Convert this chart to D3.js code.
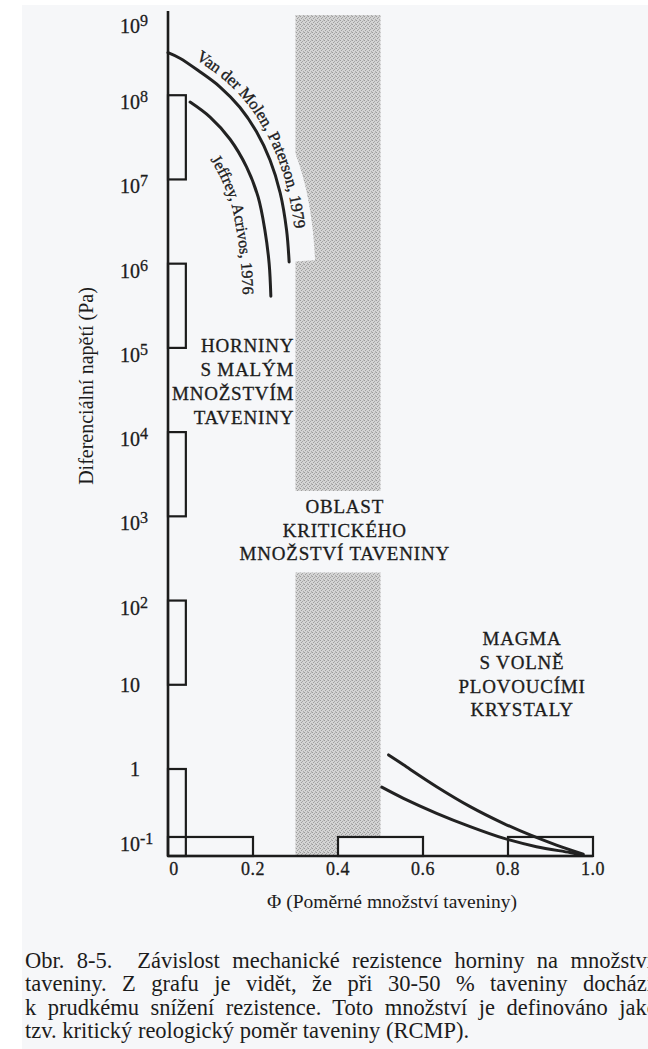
<!DOCTYPE html>
<html><head><meta charset="utf-8">
<script src="https://cdn.jsdelivr.net/npm/d3@7"></script>
<style>
html,body{margin:0;padding:0;background:#fff;}
svg{display:block;}
text{font-family:"Liberation Serif","Times New Roman",serif;fill:#1c1c1c;}
</style></head><body>
<svg id="chart" width="648" height="1049"></svg>
<script>
// ---------- data ----------
const yTickValues = [1e9, 1e8, 1e7, 1e6, 1e5, 1e4, 1e3, 1e2, 10, 1, 0.1];
const yTickBase   = ["10","10","10","10","10","10","10","10","10","1","10"];
const yTickExp    = ["9","8","7","6","5","4","3","2","","","-1"];
const xTickValues = [0, 0.2, 0.4, 0.6, 0.8, 1.0];
const xTickLabels = ["0","0.2","0.4","0.6","0.8","1.0"];

// Van der Molen & Paterson 1979
const vdmPhi    = [0, 0.028, 0.075, 0.122, 0.169, 0.208, 0.24, 0.264, 0.279, 0.285];
const vdmStress = [3.2e8, 2.75e8, 1.9e8, 1.26e8, 7.2e7, 3.7e7, 1.7e7, 6.9e6, 2.5e6, 1.05e6];
// Jeffrey & Acrivos 1976
const jaPhi     = [0.052, 0.099, 0.146, 0.185, 0.212, 0.228, 0.238, 0.242];
const jaStress  = [8.3e7, 5.5e7, 3.0e7, 1.4e7, 6.2e6, 2.5e6, 1.0e6, 4.1e5];
// magma curves (high melt fraction)
const magmaUpperPhi    = [0.519, 0.554, 0.632, 0.711, 0.789, 0.852, 0.914, 0.977];
const magmaUpperStress = [1.47, 1.12, 0.55, 0.28, 0.159, 0.107, 0.076, 0.056];
const magmaLowerPhi    = [0.503, 0.554, 0.632, 0.711, 0.789, 0.867, 0.946, 0.977];
const magmaLowerStress = [0.54, 0.37, 0.223, 0.142, 0.096, 0.072, 0.059, 0.054];

// boxes: [phiMin, phiMax, stressMin, stressMax]
const stressMin = 0.0525;
const boxPhiMin    = [0,     0,     0,     0,    0,         0,         0.4,       0.8];
const boxPhiMax    = [0.042, 0.042, 0.042, 0.042, 0.042,    0.2,       0.6,       1.0];
const boxStressMin = [1e7,   1e5,   1e3,   10,   stressMin, stressMin, stressMin, stressMin];
const boxStressMax = [1e8,   1e6,   1e4,   100,  1,         0.1,       0.1,       0.1];

// critical melt fraction band
const bandPhi = [0.3, 0.5];
const bandStressMin = [2.0e3, stressMin];
const bandStressMax = [1e9, 2.4e2];

const rockLabel = ["HORNINY","S MALÝM","MNOŽSTVÍM","TAVENINY"];
const criticalLabel = ["OBLAST","KRITICKÉHO","MNOŽSTVÍ TAVENINY"];
const magmaLabel = ["MAGMA","S VOLNĚ","PLOVOUCÍMI","KRYSTALY"];
const vdmLabel = "Van der Molen, Paterson, 1979";
const jaLabel = "Jeffrey, Acrivos, 1976";
const xTitle = "Φ (Poměrné množství taveniny)";
const yTitle = "Diferenciální napětí (Pa)";
const captionLines = [
  "Obr. 8-5.  Závislost mechanické rezistence horniny na množství",
  "taveniny. Z grafu je vidět, že při 30-50 % taveniny dochází",
  "k prudkému snížení rezistence. Toto množství je definováno jako",
  "tzv. kritický reologický poměr taveniny (RCMP)."
];

// ---------- drawing ----------
const svg = d3.select("#chart");
const bg = "#f6f7f9";
const ink = "#1c1c1c";

const x = d3.scaleLinear().domain([0, 1]).range([168, 593]);
const y = d3.scaleLog().domain([stressMin, 1, 1e9]).range([856, 769, 11]);

// page background
svg.append("rect").attr("x",0).attr("y",0).attr("width",648).attr("height",1049).attr("fill","#fff");
svg.append("rect").attr("x",22).attr("y",5).attr("width",626).attr("height",1044).attr("fill",bg);

// stipple pattern
const defs = svg.append("defs");
const pat = defs.append("pattern").attr("id","stip").attr("width",4).attr("height",4)
  .attr("patternUnits","userSpaceOnUse");
pat.append("rect").attr("width",4).attr("height",4).attr("fill","#d4d4d4");
[[0,0,"#9a9a9a"],[2,1,"#a6a6a6"],[1,2,"#9e9e9e"],[3,3,"#acacac"],[3,0,"#bcbcbc"]].forEach(p =>
  pat.append("rect").attr("x",p[0]).attr("y",p[1]).attr("width",1).attr("height",1).attr("fill",p[2]));

svg.append("g").attr("class","band").selectAll("rect").data(bandStressMin).join("rect")
  .attr("x", x(bandPhi[0]))
  .attr("width", x(bandPhi[1]) - x(bandPhi[0]))
  .attr("y", (d,i) => y(bandStressMax[i]) + 4)
  .attr("height", (d,i) => y(bandStressMin[i]) - y(bandStressMax[i]) - 4)
  .attr("fill", "url(#stip)");

// boxes (filled ones hide the band underneath)
const haloLayer = svg.append("g");
svg.append("g").selectAll("rect").data(boxPhiMin).join("rect")
  .attr("x", (d,i) => x(boxPhiMin[i]))
  .attr("width", (d,i) => x(boxPhiMax[i]) - x(boxPhiMin[i]))
  .attr("y", (d,i) => y(boxStressMax[i]))
  .attr("height", (d,i) => y(boxStressMin[i]) - y(boxStressMax[i]))
  .attr("fill", (d,i) => i >= 6 ? bg : "none")
  .attr("stroke", ink).attr("stroke-width", 2.2);

const line = d3.line().x(d => x(d[0])).y(d => y(d[1])).curve(d3.curveCatmullRom.alpha(0.5));
const series = [
  d3.zip(vdmPhi, vdmStress),
  d3.zip(jaPhi, jaStress),
  d3.zip(magmaUpperPhi, magmaUpperStress),
  d3.zip(magmaLowerPhi, magmaLowerStress)
];

function offsetPath(node, d, step) {
  const L = node.getTotalLength();
  const pts = [];
  for (let s = 0; s <= L; s += step) {
    const p = node.getPointAtLength(s);
    const a = node.getPointAtLength(Math.max(0, s - 1));
    const b = node.getPointAtLength(Math.min(L, s + 1));
    let tx = b.x - a.x, ty = b.y - a.y;
    const n = Math.hypot(tx, ty) || 1; tx /= n; ty /= n;
    pts.push([p.x + d * ty, p.y - d * tx]);
  }
  return d3.line().curve(d3.curveBasis)(pts);
}

const curves = svg.append("g").selectAll("path").data(series).join("path")
  .attr("d", line).attr("fill","none").attr("stroke","#222").attr("stroke-width",3)
  .attr("stroke-linecap","round");

// label paths
const cn = curves.nodes();
defs.append("path").attr("id","vdmPath").attr("d", offsetPath(cn[0], 8, 2));
defs.append("path").attr("id","jaPath").attr("d", offsetPath(cn[1], -28, 2));

// white halo cutting into band under VdM label
haloLayer.append("path").attr("d", offsetPath(cn[0], 15, 2))
  .attr("fill","none").attr("stroke",bg).attr("stroke-width",22);

svg.append("text").attr("font-size",16.5).attr("fill",ink).attr("stroke",ink).attr("stroke-width",0.35)
  .append("textPath").attr("href","#vdmPath").attr("startOffset",28).text(vdmLabel);
svg.append("text").attr("font-size",16).attr("fill",ink).attr("stroke",ink).attr("stroke-width",0.35)
  .append("textPath").attr("href","#jaPath").attr("startOffset",50).text(jaLabel);

// axes lines
svg.append("line").attr("x1", x(0)).attr("x2", x(0)).attr("y1", y(1e9)).attr("y2", y(stressMin))
  .attr("stroke", ink).attr("stroke-width", 2.6);
svg.append("line").attr("x1", x(0)).attr("x2", x(1)).attr("y1", y(stressMin)).attr("y2", y(stressMin))
  .attr("stroke", ink).attr("stroke-width", 2.6);

// y tick labels
const yt = svg.append("g").attr("stroke", ink).attr("stroke-width", 0.3);
yTickValues.forEach((v, i) => {
  const hasExp = yTickExp[i] !== "";
  const base = hasExp ? Math.max(y(v) + 14, 33) : y(v) + 7;
  yt.append("text").attr("x", 140).attr("y", base).attr("text-anchor","end")
    .attr("font-size", 20).text(yTickBase[i]);
  if (hasExp) yt.append("text").attr("x", 140).attr("y", base - 7)
    .attr("font-size", 16).text(yTickExp[i]);
});

// x tick labels
svg.append("g").attr("stroke", ink).attr("stroke-width", 0.3)
  .selectAll("text").data(xTickValues).join("text")
  .attr("x", d => x(d) + (d === 0 ? 6 : 0)).attr("y", 875)
  .attr("text-anchor","middle").attr("font-size",18).attr("letter-spacing",0.5)
  .text((d,i) => xTickLabels[i]);

// axis titles
svg.append("text").attr("x", 392).attr("y", 908).attr("text-anchor","middle")
  .attr("font-size", 19.5).text(xTitle);
svg.append("text").attr("transform","translate(93,386) rotate(-90)").attr("text-anchor","middle")
  .attr("font-size", 20).text(yTitle);

// region labels
function block(lines, px, py, anchor) {
  svg.append("g").attr("stroke", ink).attr("stroke-width", 0.3)
    .selectAll("text").data(lines).join("text")
    .attr("x", px).attr("y", (d,i) => py + i * 23.8)
    .attr("text-anchor", anchor).attr("font-size", 19).attr("letter-spacing", 0.8)
    .text(d => d);
}
block(rockLabel, x(0.297), y(8.9e4), "end");
block(criticalLabel, x(0.416), y(1.1e3), "middle");
block(magmaLabel, x(0.833), y(29.6), "middle");

// caption
const capTargets = [628, 628, 633, null];
captionLines.forEach((t, i) => {
  const el = svg.append("text").attr("x", 25).attr("y", 968 + i * 23.4)
    .attr("font-size", 22.5).style("white-space","pre").attr("fill","#111").text(t);
  if (capTargets[i]) {
    const w = el.node().getComputedTextLength();
    const spaces = (t.match(/ /g) || []).length;
    el.attr("word-spacing", (capTargets[i] - w) / spaces);
  }
});
</script>
</body></html>
